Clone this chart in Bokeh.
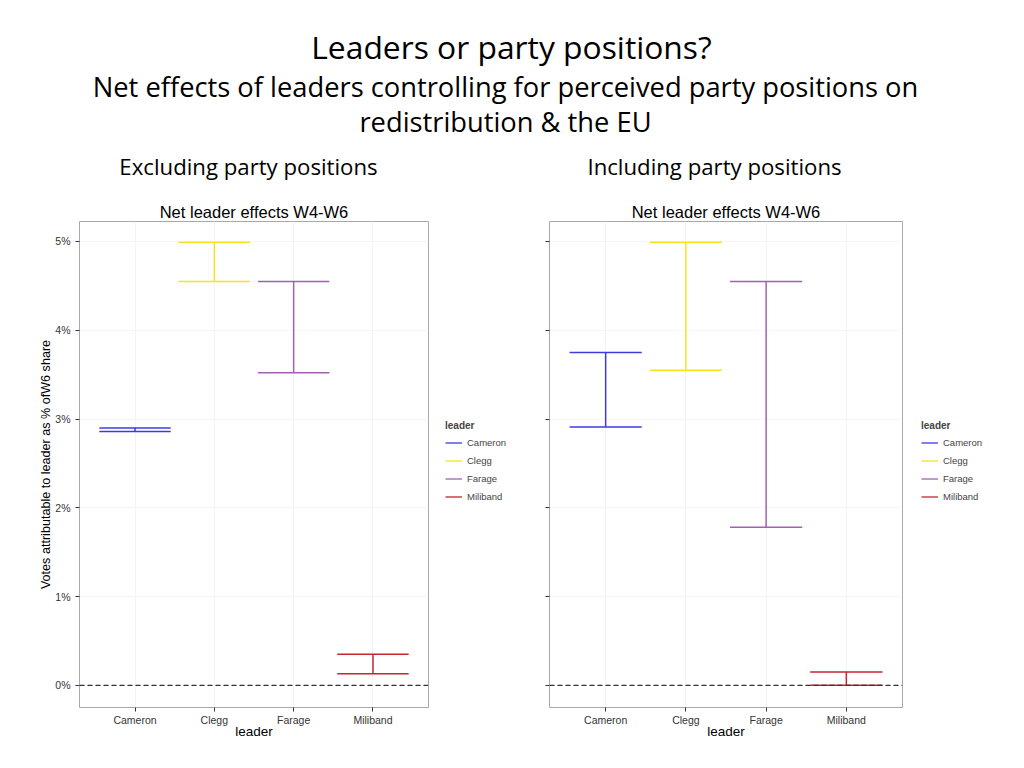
from bokeh.plotting import figure
from bokeh.layouts import column, row
from bokeh.models import (ColumnDataSource, FactorRange, Range1d, Span, Legend, LegendItem,
                          FixedTicker, CustomJSTickFormatter)
from bokeh.transform import dodge
from bokeh.core.properties import value
from bokeh.embed import file_html
from bokeh.resources import INLINE

# ---------------- data ----------------
leaders = ["Cameron", "Clegg", "Farage", "Miliband"]
colors = ["#3c3cdc", "#f4e41e", "#a062ae", "#c4262e"]

# Votes attributable to leader (% of W6 share) - excluding party positions
excl_lower = [2.86, 4.55, 3.52, 0.13]
excl_upper = [2.90, 4.99, 4.55, 0.35]
# including party positions
incl_lower = [2.91, 3.55, 1.78, 0.00]
incl_upper = [3.75, 4.99, 4.55, 0.15]

y_ticks = [0, 1, 2, 3, 4, 5]
y_start, y_end = -0.25, 5.225
zero_line = 0.0

slide_title = "Leaders or party positions?"
slide_subtitle = ["Net effects of leaders controlling for perceived party positions on",
                  "redistribution & the EU"]
panel_headings = ["Excluding party positions", "Including party positions"]
plot_title = "Net leader effects W4-W6"
y_label = "Votes attributable to leader as % ofW6 share"
x_label = "leader"
legend_title = "leader"

GG_FONT = "Liberation Sans"
SLIDE_FONT = "Open Sans"
FIG_H = 555

# ---------------- header (slide text) ----------------
header = figure(width=1004, height=190, x_range=Range1d(0, 1004), y_range=Range1d(190, 0),
                output_backend="svg", toolbar_location=None,
                x_axis_location=None, y_axis_location=None,
                min_border=0, outline_line_color=None)
header.xgrid.visible = False
header.ygrid.visible = False

hsrc = ColumnDataSource(dict(
    x=[511, 505, 505, 248, 714],
    y=[46, 86, 121, 166, 166],
    t=[slide_title, slide_subtitle[0], slide_subtitle[1], panel_headings[0], panel_headings[1]],
    s=["31.8px", "27.3px", "27.3px", "22.2px", "22.2px"],
))
header.text(x="x", y="y", text="t", source=hsrc, text_font=value(SLIDE_FONT),
            text_font_size="s", text_align="center", text_baseline="alphabetic",
            text_color="#000000")


def make_source(lower, upper):
    return ColumnDataSource(dict(leader=leaders, lower=lower, upper=upper, color=colors))


def make_panel(src, show_labels, width, border_left, border_right):
    p = figure(x_range=FactorRange(factors=leaders, range_padding=0.2,
                                   range_padding_units="absolute"),
               y_range=Range1d(y_start, y_end),
               width=width, height=FIG_H, output_backend="svg", toolbar_location=None,
               min_border_left=border_left, min_border_right=border_right,
               min_border_top=31, min_border_bottom=38, title=plot_title)
    p.title.align = "center"
    p.title.text_font = GG_FONT
    p.title.text_font_size = "16.5px"
    p.title.text_font_style = "normal"
    p.title.text_color = "#000000"
    p.title.standoff = 2

    p.outline_line_color = "#a8a8a8"
    p.xgrid.grid_line_color = "#f4f4f4"
    p.ygrid.grid_line_color = "#f6f6f6"

    p.segment(x0="leader", y0="lower", x1="leader", y1="upper", source=src,
              line_color="color", line_width=1.5)
    for col in ("upper", "lower"):
        p.segment(x0=dodge("leader", -0.45, range=p.x_range), y0=col,
                  x1=dodge("leader", 0.45, range=p.x_range), y1=col, source=src,
                  line_color="color", line_width=1.5)

    p.add_layout(Span(location=zero_line, dimension="width", line_color="#333333",
                      line_dash="5 3", line_width=1.2))

    p.yaxis.ticker = FixedTicker(ticks=y_ticks)
    if show_labels:
        p.yaxis.formatter = CustomJSTickFormatter(code="return tick.toFixed(0) + '%';")
        p.yaxis.axis_label = y_label
    else:
        p.yaxis.formatter = CustomJSTickFormatter(code="return '';")
    p.xaxis.axis_label = x_label

    for ax in (p.xaxis, p.yaxis):
        ax.axis_line_color = None
        ax.major_tick_line_color = "#333333"
        ax.major_tick_out = 4
        ax.major_tick_in = 0
        ax.minor_tick_line_color = None
        ax.major_label_text_font = GG_FONT
        ax.major_label_text_font_size = "10.5px"
        ax.major_label_text_color = "#333333"
        ax.axis_label_text_font = GG_FONT
        ax.axis_label_text_font_style = "normal"
        ax.axis_label_text_color = "#000000"
    p.xaxis.major_label_standoff = 2
    p.yaxis.major_label_standoff = 5
    p.xaxis.axis_label_text_font_size = "13.5px"
    p.xaxis.axis_label_standoff = -5
    p.yaxis.axis_label_text_font_size = "12.6px"
    p.yaxis.axis_label_standoff = -1
    return p


def make_legend_fig(src, width, x_off):
    # a narrow strip beside the panel that holds the ggplot-style legend
    f = figure(width=width, height=FIG_H, x_range=FactorRange(factors=leaders),
               y_range=Range1d(100, 101),  # keeps the key glyphs themselves out of view
               output_backend="svg", toolbar_location=None,
               x_axis_location=None, y_axis_location=None,
               min_border=0, outline_line_color=None)
    f.xgrid.visible = False
    f.ygrid.visible = False
    r = f.segment(x0="leader", y0="lower", x1="leader", y1="upper", source=src,
                  line_color="color", line_width=1.3)
    items = [LegendItem(label=leaders[i], renderers=[r], index=i) for i in range(len(leaders))]
    legend = Legend(items=items, title=legend_title, location=(x_off, 202))
    legend.title_text_font = GG_FONT
    legend.title_text_font_size = "10px"
    legend.title_text_font_style = "bold"
    legend.title_standoff = 3
    legend.label_text_font = GG_FONT
    legend.label_text_font_size = "9.5px"
    legend.label_standoff = 5
    legend.glyph_width = 17
    legend.glyph_height = 17
    legend.spacing = 1
    legend.margin = 0
    legend.padding = 4
    legend.border_line_color = None
    legend.background_fill_alpha = 0
    f.add_layout(legend)
    return f


src1 = make_source(excl_lower, excl_upper)
src2 = make_source(incl_lower, incl_upper)

p1 = make_panel(src1, True, 436, 79, 8)
leg1 = make_legend_fig(src1, 93, 9)
p2 = make_panel(src2, False, 381, 20, 8)
leg2 = make_legend_fig(src2, 94, 11)

layout = column(header, row(p1, leg1, p2, leg2))
open("out.html", "w").write(file_html(layout, INLINE))
